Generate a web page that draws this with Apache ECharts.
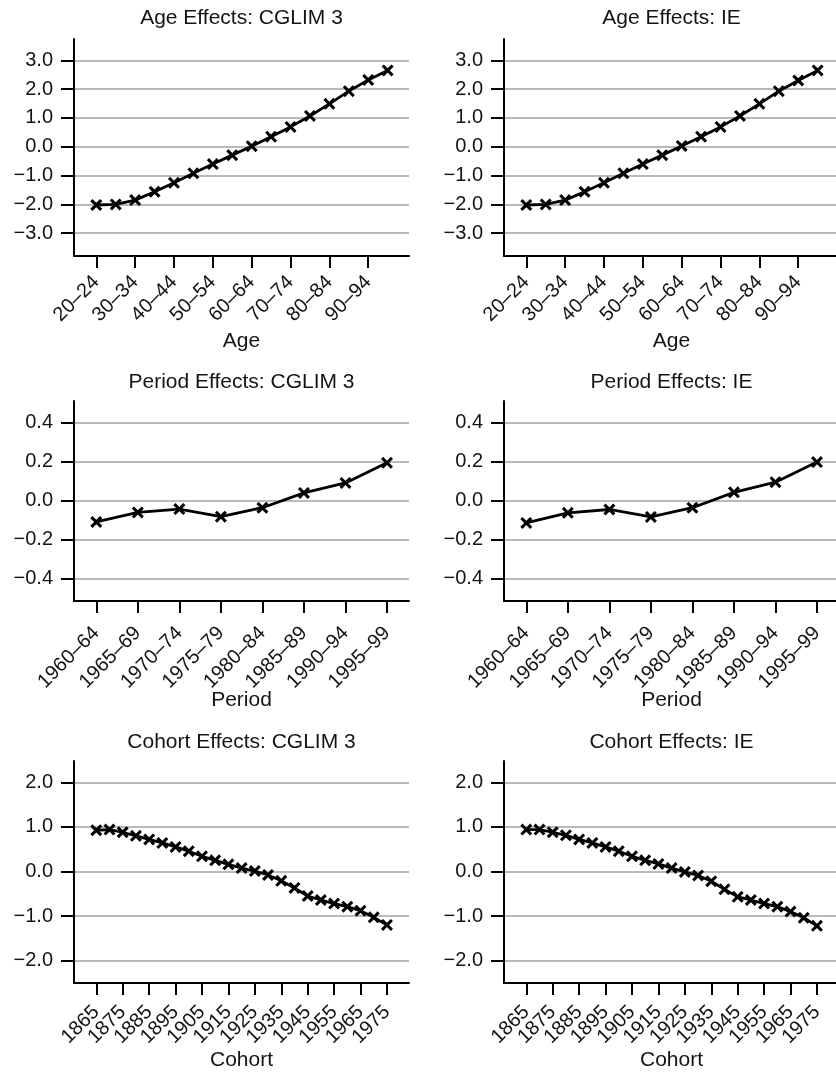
<!DOCTYPE html>
<html>
<head>
<meta charset="utf-8">
<script src="https://cdn.jsdelivr.net/npm/echarts@6/dist/echarts.min.js"></script>
<style>
html,body{margin:0;padding:0;background:#fff;}
#c{width:836px;height:1072px;}
</style>
</head>
<body>
<div id="c"></div>
<script>
// ---------- DATA ----------
const ageCats = ['20–24','25–29','30–34','35–39','40–44','45–49','50–54','55–59','60–64','65–69','70–74','75–79','80–84','85–89','90–94','95–99'];
const ageCglim = [-2.02,-2.00,-1.85,-1.56,-1.25,-0.92,-0.60,-0.29,0.02,0.35,0.69,1.07,1.49,1.93,2.32,2.65];
const ageIE    = [-2.02,-2.00,-1.85,-1.56,-1.25,-0.92,-0.60,-0.29,0.03,0.35,0.69,1.07,1.49,1.93,2.30,2.65];
const ageTickIdx = [0,2,4,6,8,10,12,14];
const ageYTicks = [-3,-2,-1,0,1,2,3];

const periodCats = ['1960–64','1965–69','1970–74','1975–79','1980–84','1985–89','1990–94','1995–99'];
const periodCglim = [-0.109,-0.060,-0.043,-0.082,-0.036,0.040,0.091,0.194];
const periodIE    = [-0.114,-0.062,-0.045,-0.083,-0.036,0.043,0.095,0.198];
const periodTickIdx = [0,1,2,3,4,5,6,7];
const periodYTicks = [-0.4,-0.2,0,0.2,0.4];

const cohortCats = ['1865','1870','1875','1880','1885','1890','1895','1900','1905','1910','1915','1920','1925','1930','1935','1940','1945','1950','1955','1960','1965','1970','1975'];
const cohortCglim = [0.925,0.94,0.88,0.80,0.72,0.64,0.55,0.455,0.34,0.25,0.16,0.075,0.01,-0.08,-0.21,-0.37,-0.55,-0.64,-0.72,-0.79,-0.88,-1.03,-1.20];
const cohortIE    = [0.94,0.94,0.88,0.81,0.72,0.64,0.55,0.455,0.34,0.25,0.17,0.075,-0.01,-0.09,-0.22,-0.40,-0.57,-0.64,-0.72,-0.79,-0.90,-1.04,-1.22];
const cohortTickIdx = [0,2,4,6,8,10,12,14,16,18,20,22];
const cohortYTicks = [-2,-1,0,1,2];

const titlesLeft  = ['Age Effects: CGLIM 3','Period Effects: CGLIM 3','Cohort Effects: CGLIM 3'];
const titlesRight = ['Age Effects: IE','Period Effects: IE','Cohort Effects: IE'];
const axisNames = ['Age','Period','Cohort'];

// ---------- LAYOUT ----------
const FONT = '"Liberation Sans", Arial, Helvetica, sans-serif';
const TXT = '#141414';
const colLeft = [74, 504];
const gridW = 335;
const rows = [
  {top:39,  h:217, ymin:-3.79, ymax:3.74, yticks:ageYTicks, xmin:-1.148, xmax:16.1, cats:ageCats, tickIdx:ageTickIdx, series:[ageCglim, ageIE], nameGap:75, labMargin:23, titleTop:8},
  {top:401, h:200, ymin:-0.514, ymax:0.511, yticks:periodYTicks, xmin:-0.537, xmax:7.53, cats:periodCats, tickIdx:periodTickIdx, series:[periodCglim, periodIE], nameGap:89, labMargin:29, titleTop:372},
  {top:761, h:222, ymin:-2.503, ymax:2.479, yticks:cohortYTicks, xmin:-1.688, xmax:23.67, cats:cohortCats, tickIdx:cohortTickIdx, series:[cohortCglim, cohortIE], nameGap:67, labMargin:26, titleTop:732}
];
const xSym = 'path://M0,1.8L1.8,0L5,3.2L8.2,0L10,1.8L6.8,5L10,8.2L8.2,10L5,6.8L1.8,10L0,8.2L3.2,5Z';

const fmtY = v => (Math.abs(v) < 1e-9 ? 0 : v).toFixed(1).replace('-', '\u2212');

const grid = [], xAxis = [], yAxis = [], series = [], title = [];
rows.forEach((r, ri) => {
  // labels split into two interleaved sets (two stacked x axes) so that
  // the tightly packed rotated labels are never auto-hidden
  const setA = r.tickIdx.filter((_, k) => k % 2 === 0);
  const setB = r.tickIdx.filter((_, k) => k % 2 === 1);
  [0,1].forEach(ci => {
    const gi = grid.length;
    grid.push({left: colLeft[ci], top: r.top, width: gridW, height: r.h, containLabel:false, outerBoundsMode:'none'});
    title.push({
      text: (ci === 0 ? titlesLeft : titlesRight)[ri],
      left: colLeft[ci] + gridW/2, top: r.titleTop, textAlign: 'center', padding: 0,
      textStyle: {fontFamily: FONT, fontSize: 21, fontWeight: 'normal', color: TXT}
    });
    const labelCommon = {show:true, rotate:45, margin:r.labMargin,
        showMinLabel:true, showMaxLabel:true, hideOverlap:false, lineHeight: 12,
        fontFamily: FONT, fontSize: 20, color: TXT,
        formatter: v => r.cats[Math.round(v)] || ''};
    const xi = xAxis.length;
    xAxis.push({
      type:'value', gridIndex: gi, position:'bottom', offset:0, min: r.xmin, max: r.xmax,
      name: axisNames[ri], nameLocation:'middle', nameGap: r.nameGap, nameMoveOverlap:false,
      nameTextStyle: {fontFamily: FONT, fontSize: 21, color: TXT},
      axisLine: {show:true, onZero:false, lineStyle:{color:'#000', width:2}},
      axisTick: {show:true, customValues: setA, length: 12, lineStyle:{color:'#000', width:2}},
      axisLabel: Object.assign({customValues: setA}, labelCommon),
      splitLine: {show:false}
    });
    xAxis.push({
      type:'value', gridIndex: gi, position:'bottom', offset:0, min: r.xmin, max: r.xmax,
      axisLine: {show:false, onZero:false},
      axisTick: {show:true, customValues: setB, length: 12, lineStyle:{color:'#000', width:2}},
      axisLabel: Object.assign({customValues: setB}, labelCommon),
      splitLine: {show:false}
    });
    yAxis.push({
      type:'value', gridIndex: gi, min: r.ymin, max: r.ymax,
      axisLine: {show:true, onZero:false, lineStyle:{color:'#000', width:2}},
      axisTick: {show:true, customValues: r.yticks, length: 13, lineStyle:{color:'#000', width:2}},
      axisLabel: {show:true, customValues: r.yticks, margin: 21,
        fontFamily: FONT, fontSize: 20, color: TXT, formatter: fmtY},
      splitLine: {show:true, lineStyle:{color:'#bababa', width:2}}
    });
    const vals = r.series[ci];
    series.push({
      type:'line', xAxisIndex: xi, yAxisIndex: gi,
      data: vals.map((v, i) => [i, v]),
      symbol: xSym, symbolSize: 12, showSymbol: true,
      lineStyle: {color:'#000', width:2.8},
      itemStyle: {color:'#000'},
      z: 5
    });
  });
});

const chart = echarts.init(document.getElementById('c'), null, {renderer:'canvas'});
chart.setOption({animation:false, backgroundColor:'#fff', title, grid, xAxis, yAxis, series});
</script>
</body>
</html>
